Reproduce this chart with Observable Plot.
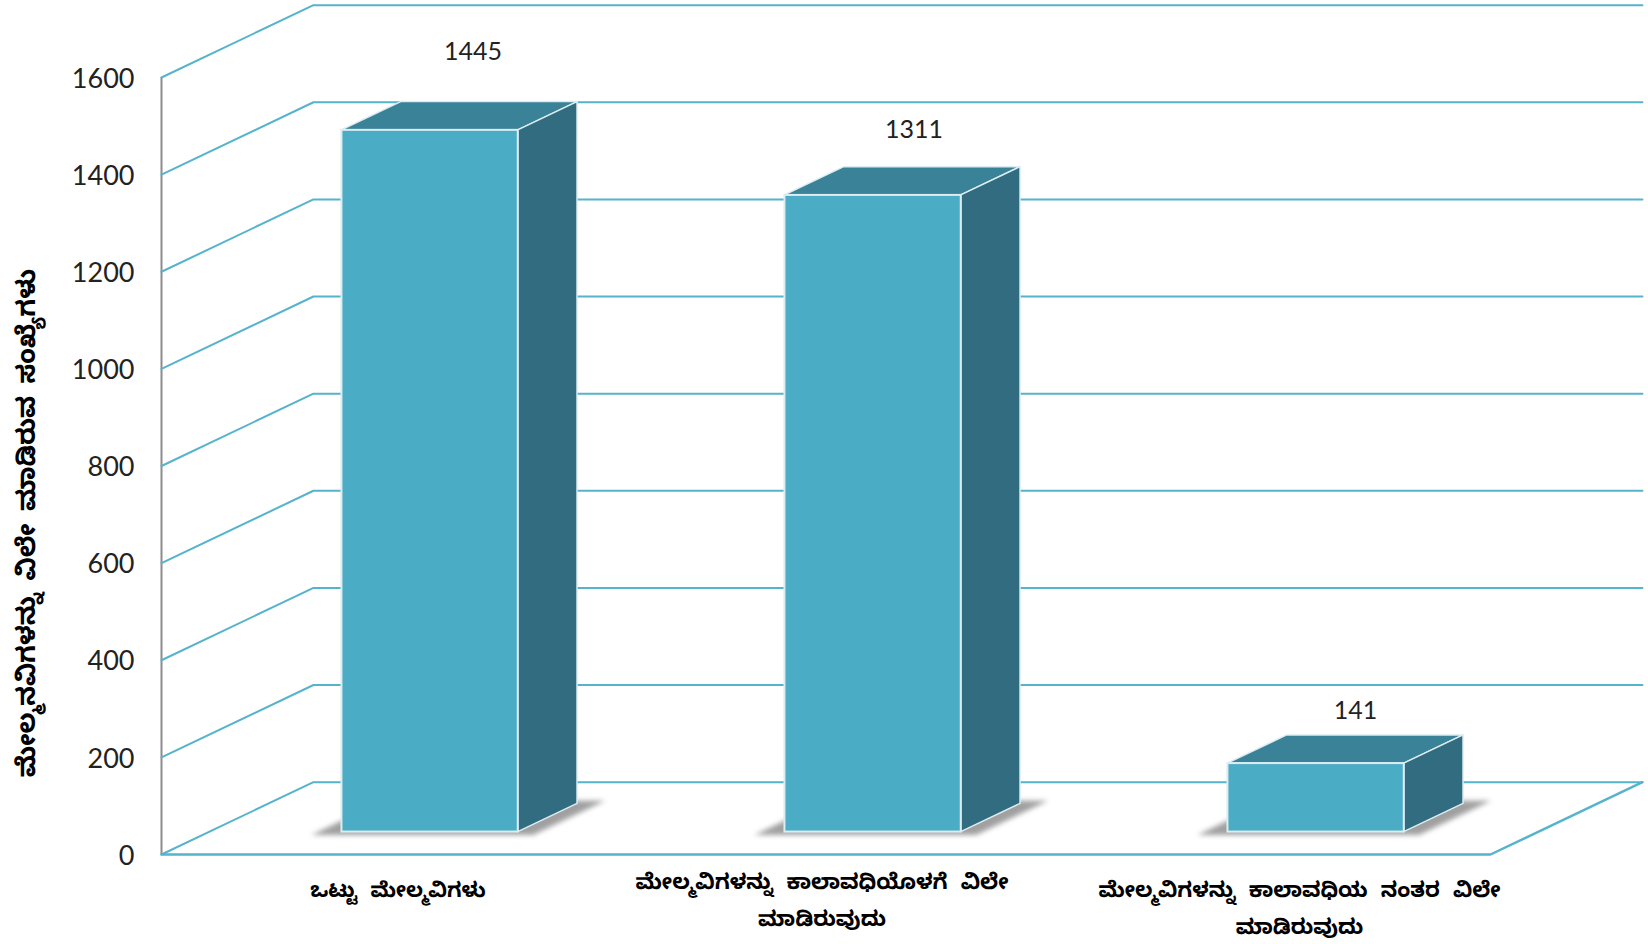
<!DOCTYPE html>
<html>
<head>
<meta charset="utf-8">
<script src="https://cdn.jsdelivr.net/npm/d3@7"></script>
<script src="https://cdn.jsdelivr.net/npm/@observablehq/plot@0.6"></script>
<style>
html,body{margin:0;padding:0;background:#fff;}
svg{display:block;}
svg .kn text, svg text.kn{word-spacing:7px;}
svg .kt text, svg text.kt{word-spacing:5px;}
</style>
</head>
<body>
<div id="chart"></div>
<script>
// Data
const categories = [
  "ಒಟ್ಟು ಮೇಲ್ಮವಿಗಳು",
  "ಮೇಲ್ಮವಿಗಳನ್ನು ಕಾಲಾವಧಿಯೊಳಗೆ ವಿಲೇ\nಮಾಡಿರುವುದು",
  "ಮೇಲ್ಮವಿಗಳನ್ನು ಕಾಲಾವಧಿಯ ನಂತರ ವಿಲೇ\nಮಾಡಿರುವುದು"
];
const values = [1445, 1311, 141];
const yTicks = [0, 200, 400, 600, 800, 1000, 1200, 1400, 1600];
const yTitle = "ಮೇಲ್ಮನವಿಗಳನ್ನು ವಿಲೇ ಮಾಡಿರುವ ಸಂಖ್ಯೆಗಳು";

// Oblique 3-D projection, expressed in data units of the x and y scales
const depthX = 0.343, depthY = 149;
const barHalf = 0.199, dFront = 0.31, dBack = 0.70;
const shHalf = 0.25, shFront = 0.262, shBack = 0.735;
const px = (c, d) => c + d * depthX;
const py = (v, d) => v + d * depthY;

const FRONT = "#4bacc6", TOP = "#398297", SIDE = "#316c80", GRID = "#55b3cc", EDGE = "#dcecf1";
const FONT = "'Noto Sans Kannada','Noto Serif Kannada','Lohit Kannada',Tunga,'DejaVu Sans',sans-serif";
const NUM = "Lato,'Noto Sans',sans-serif";

const bars = values.map((v, i) => ({i, c: i + 0.5, v}));

// gridlines across left wall and back wall
const grid = yTicks.flatMap(v => [
  {v, x: px(0, 0), y: py(v, 0)},
  {v, x: px(0, 1), y: py(v, 1)},
  {v, x: px(3, 1), y: py(v, 1)}
]);
const floorEdge = [
  {x: px(0, 0), y: py(0, 0)},
  {x: px(3, 0), y: py(0, 0)},
  {x: px(3, 1), y: py(0, 1)}
];

const shadow = bars.flatMap(b => [shFront, shBack].map(d => ({
  i: b.i, x1: px(b.c - shHalf, d), x2: px(b.c + shHalf, d), y: py(0, d)
})));
const topFace = bars.flatMap(b => [dFront, dBack].map(d => ({
  i: b.i, x1: px(b.c - barHalf, d), x2: px(b.c + barHalf, d), y: py(b.v, d)
})));
const sideFace = bars.flatMap(b => [dFront, dBack].map(d => ({
  i: b.i, x: px(b.c + barHalf, d), y1: py(0, d), y2: py(b.v, d)
})));
const frontFace = bars.map(b => ({
  x1: px(b.c - barHalf, dFront), x2: px(b.c + barHalf, dFront), y1: py(0, dFront), y2: py(b.v, dFront)
}));
const valueLabels = bars.map(b => ({
  x: px(b.c, dFront), y: py(b.v, dFront), t: String(b.v)
}));

const valueDy = [-78, -65, -53];
const valueDx = [43, 41, 39.5];
const catDx = [15, -4, 30.5];
const catDy = [17, 9, 17];
const catSize = [20.8, 21.5, 21.4];

const chart = Plot.plot({
  width: 1648,
  height: 944,
  marginLeft: 161,
  marginRight: 158,
  marginTop: 77,
  marginBottom: 90,
  style: {background: "#fff", overflow: "visible"},
  x: {domain: [0, 3], axis: null},
  y: {domain: [0, 1600], axis: null},
  marks: [
    Plot.ruleX([0], {y1: 0, y2: 1600, stroke: "#8c8c8c", strokeWidth: 2}),
    Plot.line(grid, {x: "x", y: "y", z: "v", stroke: GRID, strokeWidth: 2, curve: "linear"}),
    Plot.line(floorEdge, {x: "x", y: "y", stroke: GRID, strokeWidth: 2.4, curve: "linear"}),
    Plot.area(shadow, {x1: "x1", x2: "x2", y1: "y", y2: "y", z: "i", fill: "#8f8f8f", fillOpacity: 0.85, imageFilter: "blur(2.5px)", curve: "linear"}),
    Plot.area(topFace, {x1: "x1", x2: "x2", y1: "y", y2: "y", z: "i", fill: TOP, stroke: EDGE, strokeWidth: 1.5, curve: "linear"}),
    Plot.area(sideFace, {x1: "x", x2: "x", y1: "y1", y2: "y2", z: "i", fill: SIDE, stroke: EDGE, strokeWidth: 1.5, curve: "linear"}),
    Plot.rect(frontFace, {x1: "x1", x2: "x2", y1: "y1", y2: "y2", fill: FRONT, stroke: EDGE, strokeWidth: 2}),
    Plot.axisY({ticks: yTicks, tickSize: 0, tickPadding: 27, tickFormat: d => String(d), label: null, dy: 1.5,
      fontSize: 27, fontFamily: NUM, fill: "#222"}),
    Plot.text([yTitle], {text: d => d, frameAnchor: "left", textAnchor: "middle", dx: -135, dy: 57, rotate: -90,
      className: "kt", fontSize: 25.7, fontWeight: "bold", fontFamily: FONT, fill: "#000"}),
    ...categories.map((label, i) => Plot.text([label], {
      x: [i + 0.5], y: [0], text: d => d, dx: catDx[i], dy: catDy[i], lineAnchor: "top", lineHeight: 1.7,
      className: "kn", fontSize: catSize[i], fontWeight: "bold", fontFamily: FONT, fill: "#000"
    })),
    ...valueLabels.map((d, i) => Plot.text([d], {x: "x", y: "y", text: "t", dx: valueDx[i], dy: valueDy[i],
      fontSize: 25, fontFamily: NUM, fill: "#222"}))
  ]
});
document.getElementById("chart").append(chart);
</script>
</body>
</html>
